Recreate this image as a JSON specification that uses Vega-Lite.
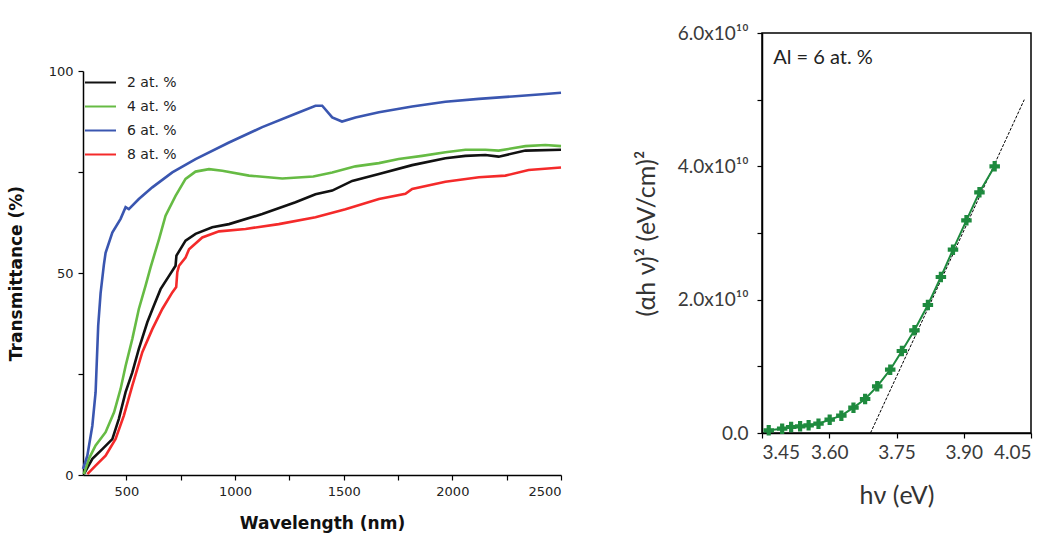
{
  "$schema": "https://vega.github.io/schema/vega-lite/v6.json",
  "background": "white",
  "padding": {"left": 7, "top": 23, "right": 5, "bottom": 5},
  "spacing": 66,
  "config": {
    "view": {"stroke": null},
    "axis": {"grid": false, "domainColor": "black", "tickColor": "black", "domainWidth": 1.5, "tickWidth": 1.2, "tickSize": 5}
  },
  "datasets": {
    "trans": [
      {"series": "2 at. %", "wl": 304, "T": 0.2}, {"series": "2 at. %", "wl": 343, "T": 4}, {"series": "2 at. %", "wl": 389, "T": 6.4}, {"series": "2 at. %", "wl": 435, "T": 8.9}, {"series": "2 at. %", "wl": 465, "T": 13.9}, {"series": "2 at. %", "wl": 496, "T": 20.5}, {"series": "2 at. %", "wl": 527, "T": 25.4}, {"series": "2 at. %", "wl": 557, "T": 31.2}, {"series": "2 at. %", "wl": 596, "T": 37.8}, {"series": "2 at. %", "wl": 626, "T": 41.9}, {"series": "2 at. %", "wl": 657, "T": 46}, {"series": "2 at. %", "wl": 696, "T": 49.3}, {"series": "2 at. %", "wl": 726, "T": 51.8}, {"series": "2 at. %", "wl": 730, "T": 54.3}, {"series": "2 at. %", "wl": 772, "T": 58}, {"series": "2 at. %", "wl": 818, "T": 59.7}, {"series": "2 at. %", "wl": 895, "T": 61.3}, {"series": "2 at. %", "wl": 972, "T": 62.1}, {"series": "2 at. %", "wl": 1125, "T": 64.6}, {"series": "2 at. %", "wl": 1278, "T": 67.5}, {"series": "2 at. %", "wl": 1370, "T": 69.5}, {"series": "2 at. %", "wl": 1447, "T": 70.4}, {"series": "2 at. %", "wl": 1539, "T": 72.8}, {"series": "2 at. %", "wl": 1662, "T": 74.5}, {"series": "2 at. %", "wl": 1815, "T": 76.7}, {"series": "2 at. %", "wl": 1968, "T": 78.4}, {"series": "2 at. %", "wl": 2060, "T": 79.0}, {"series": "2 at. %", "wl": 2152, "T": 79.2}, {"series": "2 at. %", "wl": 2213, "T": 78.8}, {"series": "2 at. %", "wl": 2336, "T": 80.3}, {"series": "2 at. %", "wl": 2500, "T": 80.5},
      {"series": "4 at. %", "wl": 304, "T": 0.2}, {"series": "4 at. %", "wl": 327, "T": 4}, {"series": "4 at. %", "wl": 358, "T": 7.3}, {"series": "4 at. %", "wl": 404, "T": 10.6}, {"series": "4 at. %", "wl": 443, "T": 15.5}, {"series": "4 at. %", "wl": 473, "T": 21.3}, {"series": "4 at. %", "wl": 496, "T": 27}, {"series": "4 at. %", "wl": 527, "T": 33.7}, {"series": "4 at. %", "wl": 557, "T": 41.1}, {"series": "4 at. %", "wl": 588, "T": 46.9}, {"series": "4 at. %", "wl": 611, "T": 51.4}, {"series": "4 at. %", "wl": 650, "T": 58.4}, {"series": "4 at. %", "wl": 680, "T": 64.2}, {"series": "4 at. %", "wl": 726, "T": 69.1}, {"series": "4 at. %", "wl": 772, "T": 73.3}, {"series": "4 at. %", "wl": 818, "T": 75.1}, {"series": "4 at. %", "wl": 880, "T": 75.7}, {"series": "4 at. %", "wl": 941, "T": 75.3}, {"series": "4 at. %", "wl": 1064, "T": 74.1}, {"series": "4 at. %", "wl": 1217, "T": 73.4}, {"series": "4 at. %", "wl": 1360, "T": 73.9}, {"series": "4 at. %", "wl": 1447, "T": 74.9}, {"series": "4 at. %", "wl": 1554, "T": 76.4}, {"series": "4 at. %", "wl": 1662, "T": 77.2}, {"series": "4 at. %", "wl": 1753, "T": 78.2}, {"series": "4 at. %", "wl": 1861, "T": 79.0}, {"series": "4 at. %", "wl": 1968, "T": 79.9}, {"series": "4 at. %", "wl": 2060, "T": 80.5}, {"series": "4 at. %", "wl": 2152, "T": 80.5}, {"series": "4 at. %", "wl": 2213, "T": 80.3}, {"series": "4 at. %", "wl": 2336, "T": 81.4}, {"series": "4 at. %", "wl": 2428, "T": 81.7}, {"series": "4 at. %", "wl": 2500, "T": 81.4},
      {"series": "6 at. %", "wl": 300, "T": 1.5}, {"series": "6 at. %", "wl": 320, "T": 4.8}, {"series": "6 at. %", "wl": 343, "T": 12.2}, {"series": "6 at. %", "wl": 358, "T": 20.5}, {"series": "6 at. %", "wl": 370, "T": 37}, {"series": "6 at. %", "wl": 381, "T": 45}, {"series": "6 at. %", "wl": 396, "T": 52}, {"series": "6 at. %", "wl": 404, "T": 55}, {"series": "6 at. %", "wl": 435, "T": 60}, {"series": "6 at. %", "wl": 473, "T": 63.4}, {"series": "6 at. %", "wl": 496, "T": 66.3}, {"series": "6 at. %", "wl": 511, "T": 65.8}, {"series": "6 at. %", "wl": 557, "T": 68.3}, {"series": "6 at. %", "wl": 619, "T": 71.2}, {"series": "6 at. %", "wl": 711, "T": 74.9}, {"series": "6 at. %", "wl": 818, "T": 78.2}, {"series": "6 at. %", "wl": 972, "T": 82.3}, {"series": "6 at. %", "wl": 1125, "T": 86.1}, {"series": "6 at. %", "wl": 1278, "T": 89.4}, {"series": "6 at. %", "wl": 1370, "T": 91.4}, {"series": "6 at. %", "wl": 1401, "T": 91.4}, {"series": "6 at. %", "wl": 1447, "T": 88.5}, {"series": "6 at. %", "wl": 1492, "T": 87.5}, {"series": "6 at. %", "wl": 1554, "T": 88.5}, {"series": "6 at. %", "wl": 1662, "T": 89.8}, {"series": "6 at. %", "wl": 1815, "T": 91.2}, {"series": "6 at. %", "wl": 1968, "T": 92.4}, {"series": "6 at. %", "wl": 2122, "T": 93.1}, {"series": "6 at. %", "wl": 2275, "T": 93.7}, {"series": "6 at. %", "wl": 2428, "T": 94.3}, {"series": "6 at. %", "wl": 2500, "T": 94.6},
      {"series": "8 at. %", "wl": 320, "T": 0.2}, {"series": "8 at. %", "wl": 358, "T": 2.3}, {"series": "8 at. %", "wl": 404, "T": 4.8}, {"series": "8 at. %", "wl": 450, "T": 8.9}, {"series": "8 at. %", "wl": 488, "T": 14.7}, {"series": "8 at. %", "wl": 527, "T": 22.1}, {"series": "8 at. %", "wl": 573, "T": 30.4}, {"series": "8 at. %", "wl": 619, "T": 36.1}, {"series": "8 at. %", "wl": 665, "T": 41.1}, {"series": "8 at. %", "wl": 711, "T": 45.2}, {"series": "8 at. %", "wl": 729, "T": 46.5}, {"series": "8 at. %", "wl": 734, "T": 50.2}, {"series": "8 at. %", "wl": 742, "T": 51.8}, {"series": "8 at. %", "wl": 772, "T": 53.8}, {"series": "8 at. %", "wl": 788, "T": 55.9}, {"series": "8 at. %", "wl": 849, "T": 58.8}, {"series": "8 at. %", "wl": 926, "T": 60.3}, {"series": "8 at. %", "wl": 1048, "T": 60.9}, {"series": "8 at. %", "wl": 1201, "T": 62.1}, {"series": "8 at. %", "wl": 1370, "T": 63.8}, {"series": "8 at. %", "wl": 1508, "T": 65.8}, {"series": "8 at. %", "wl": 1662, "T": 68.3}, {"series": "8 at. %", "wl": 1784, "T": 69.6}, {"series": "8 at. %", "wl": 1815, "T": 70.8}, {"series": "8 at. %", "wl": 1968, "T": 72.6}, {"series": "8 at. %", "wl": 2122, "T": 73.7}, {"series": "8 at. %", "wl": 2244, "T": 74.1}, {"series": "8 at. %", "wl": 2351, "T": 75.5}, {"series": "8 at. %", "wl": 2500, "T": 76.1}
    ],
    "tauc": [
      {"hv": 3.465, "y": 400000000}, {"hv": 3.495, "y": 650000000}, {"hv": 3.515, "y": 900000000}, {"hv": 3.535, "y": 1000000000}, {"hv": 3.554, "y": 1150000000}, {"hv": 3.576, "y": 1400000000}, {"hv": 3.601, "y": 2000000000}, {"hv": 3.627, "y": 2600000000}, {"hv": 3.654, "y": 3800000000}, {"hv": 3.68, "y": 5100000000}, {"hv": 3.707, "y": 7000000000}, {"hv": 3.736, "y": 9500000000}, {"hv": 3.762, "y": 12300000000}, {"hv": 3.79, "y": 15400000000}, {"hv": 3.82, "y": 19200000000}, {"hv": 3.849, "y": 23400000000}, {"hv": 3.876, "y": 27500000000}, {"hv": 3.906, "y": 31900000000}, {"hv": 3.935, "y": 36100000000}, {"hv": 3.969, "y": 40000000000}
    ],
    "fit": [
      {"hv": 3.692, "y": 0}, {"hv": 4.035, "y": 50000000000}
    ],
    "note": [
      {"hv": 3.475, "y": 56300000000, "label": "Al = 6 at. %"}
    ],
    "blank": [
      {"t": ""}
    ]
  },
  "hconcat": [
    {
      "spacing": 0,
      "vconcat": [
        {
          "width": 478,
          "height": 32,
          "data": {"name": "blank"},
          "mark": {"type": "text"},
          "encoding": {"text": {"field": "t"}}
        },
        {
          "width": 478,
          "height": 404,
          "data": {"name": "trans"},
          "mark": {"type": "line", "strokeWidth": 2.6},
          "encoding": {
            "x": {
              "field": "wl", "type": "quantitative",
              "scale": {"domain": [300, 2500], "nice": false, "zero": false},
              "axis": {
                "title": "Wavelength (nm)", "values": [500, 750, 1000, 1250, 1500, 1750, 2000, 2250, 2500],
                "format": "d", "labelExpr": "datum.value % 500 == 0 ? datum.label : ''",
                "labelFont": "DejaVu Sans", "labelFontSize": 13, "labelColor": "#222", "labelPadding": 5,
                "titleFont": "DejaVu Sans", "titleFontSize": 17, "titleFontWeight": "bold", "titleColor": "#111", "titlePadding": 17
              }
            },
            "y": {
              "field": "T", "type": "quantitative",
              "scale": {"domain": [0, 100], "nice": false},
              "axis": {
                "title": "Transmittance (%)", "values": [0, 25, 50, 75, 100],
                "labelExpr": "datum.value % 50 == 0 ? datum.label : ''",
                "labelFont": "DejaVu Sans", "labelFontSize": 13, "labelColor": "#222", "labelPadding": 5,
                "titleFont": "DejaVu Sans", "titleFontSize": 17, "titleFontWeight": "bold", "titleColor": "#111", "titlePadding": 23
              }
            },
            "color": {
              "field": "series", "type": "nominal",
              "scale": {"domain": ["2 at. %", "4 at. %", "6 at. %", "8 at. %"], "range": ["#111111", "#66bb44", "#3a56b0", "#f42a2a"]},
              "legend": {
                "title": null, "orient": "none", "legendX": 1, "legendY": 33,
                "symbolType": "stroke", "symbolSize": 961, "symbolStrokeWidth": 2,
                "labelFont": "DejaVu Sans", "labelFontSize": 14, "labelColor": "#222", "rowPadding": -9, "labelOffset": 10
              }
            }
          }
        }
      ]
    },
    {
      "width": 269,
      "height": 400,
      "view": {"stroke": "black", "strokeWidth": 1.5},
      "encoding": {
        "x": {
          "field": "hv", "type": "quantitative",
          "scale": {"domain": [3.45, 4.05], "nice": false, "zero": false},
          "axis": {
            "title": "hν  (eV)", "values": [3.45, 3.6, 3.75, 3.9, 4.05], "format": ".2f",
            "labelFont": "Lato", "labelFontSize": 19, "labelColor": "#3a3a3a", "labelPadding": 5,
            "titleFont": "Lato", "titleFontSize": 25, "titleFontWeight": "normal", "titleColor": "#333", "titlePadding": 21
          }
        },
        "y": {
          "field": "y", "type": "quantitative",
          "scale": {"domain": [0, 60000000000], "nice": false},
          "axis": {
            "title": "(αh ν)² (eV/cm)²", "values": [0, 10000000000, 20000000000, 30000000000, 40000000000, 50000000000, 60000000000],
            "labelExpr": "datum.value == 0 ? '0.0' : ((datum.value / 1e10) % 2 == 0 ? format(datum.value / 1e10, '.1f') + 'x10¹⁰' : '')",
            "labelFont": "Lato", "labelFontSize": 19, "labelColor": "#3a3a3a", "labelPadding": 9,
            "titleFont": "Lato", "titleFontSize": 25, "titleFontWeight": "normal", "titleColor": "#333", "titlePadding": 18
          }
        }
      },
      "layer": [
        {"data": {"name": "fit"}, "mark": {"type": "line", "color": "black", "strokeWidth": 1, "strokeDash": [3, 1.5]}},
        {"data": {"name": "tauc"}, "mark": {"type": "line", "color": "#1e8a3e", "strokeWidth": 2}},
        {"data": {"name": "tauc"}, "mark": {"type": "point", "shape": "cross", "filled": true, "color": "#1e8a3e", "size": 110, "opacity": 1}},
        {"data": {"name": "note"}, "mark": {"type": "text", "align": "left", "baseline": "middle", "font": "Lato", "fontSize": 20, "color": "#222"}, "encoding": {"text": {"field": "label"}}}
      ]
    }
  ]
}
